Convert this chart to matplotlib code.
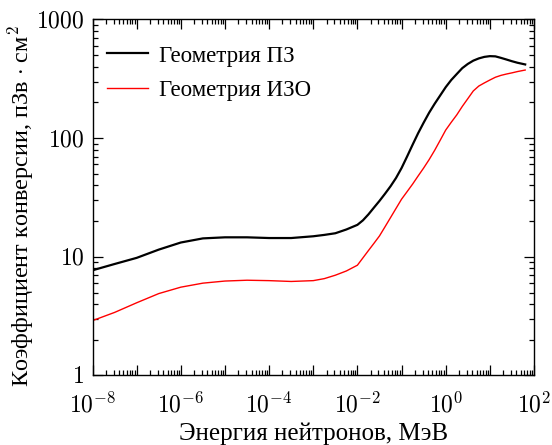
import matplotlib
matplotlib.use("Agg")
import matplotlib.pyplot as plt
from matplotlib.ticker import FixedLocator, FuncFormatter, LogLocator, NullFormatter
import numpy as np

plt.rcParams['mathtext.fontset'] = 'cm'
plt.rcParams['font.family'] = ['Liberation Serif', 'DejaVu Serif']

# log10 of energy (MeV)
log_energy = [-8, -7.5, -7, -6.5, -6, -5.5, -5, -4.5, -4, -3.5, -3, -2.75, -2.5, -2.25, -2,
              -1.875, -1.75, -1.625, -1.5, -1.375, -1.25, -1.125, -1, -0.875, -0.75,
              -0.625, -0.5, -0.375, -0.25, -0.125, 0, 0.125, 0.25, 0.375, 0.5, 0.625,
              0.75, 0.875, 1.0, 1.125, 1.25, 1.375, 1.5, 1.625, 1.8]
geom_pz = [7.7, 8.7, 9.8, 11.5, 13.2, 14.3, 14.6, 14.6, 14.4, 14.4, 14.9, 15.3, 15.8, 17.0, 18.6,
           20.3, 22.8, 26.0, 29.6, 34.0, 39.3, 46.2, 56, 70, 88,
           110, 135, 164, 195, 229, 269, 309, 347, 389, 422, 450,
           470, 484, 491, 489, 475, 460, 445, 432, 418]
geom_izo = [2.9, 3.4, 4.1, 4.9, 5.55, 6.0, 6.25, 6.35, 6.3, 6.2, 6.3, 6.55, 7.0, 7.6, 8.5,
            9.8, 11.3, 13.0, 15, 17.9, 21.4, 25.6, 30.6, 35.4, 41,
            48, 56, 66, 79, 96, 117, 136, 157, 185, 215, 250,
            275, 292, 309, 326, 338, 347, 355, 364, 375]

labels = ['Геометрия ПЗ', 'Геометрия ИЗО']
xlabel = 'Энергия нейтронов, МэВ'
ylabel = 'Коэффициент конверсии, пЗв $\\cdot$ см$^2$'

energy = [10.0 ** v for v in log_energy]

fig = plt.figure(figsize=(5.52, 4.45), dpi=100)
ax = fig.add_axes([0.1676, 0.1562, 0.7998, 0.8])
ax.plot(energy, geom_pz, color='black', lw=1.6, label=labels[0])
ax.plot(energy, geom_izo, color='red', lw=1.0, label=labels[1])
ax.set_xscale('log')
ax.set_yscale('log')
ax.set_xlim(1e-8, 1e2)
ax.set_ylim(1, 1000)

ax.xaxis.set_major_locator(FixedLocator([10.0 ** k for k in range(-8, 3)]))
ax.xaxis.set_major_formatter(FuncFormatter(
    lambda v, p: '$10^{%d}$' % round(np.log10(v)) if round(np.log10(v)) % 2 == 0 else ''))
ax.xaxis.set_minor_locator(LogLocator(base=10, subs=np.arange(2, 10), numticks=100))
ax.xaxis.set_minor_formatter(NullFormatter())
ax.yaxis.set_major_locator(FixedLocator([1, 10, 100, 1000]))
ax.yaxis.set_major_formatter(FuncFormatter(lambda v, p: '$%d$' % round(v)))
ax.yaxis.set_minor_locator(LogLocator(base=10, subs=np.arange(2, 10), numticks=100))
ax.yaxis.set_minor_formatter(NullFormatter())

ax.tick_params(which='both', direction='in', top=True, right=True, labelsize=17, width=0.9)
ax.tick_params(which='major', length=7)
ax.tick_params(which='minor', length=3.5)
ax.tick_params(axis='x', which='major', pad=12)
ax.tick_params(axis='y', which='major', pad=6)
for s in ax.spines.values():
    s.set_linewidth(1.0)

ax.set_xlabel(xlabel, fontsize=18, labelpad=4)
ax.set_ylabel(ylabel, fontsize=17.5)
ax.yaxis.set_label_coords(-0.128, 0.475)

ax.legend(loc='upper left', bbox_to_anchor=(0.033, 0.927), frameon=False, fontsize=16.5,
          handlelength=1.8, handletextpad=0.45, borderaxespad=0, borderpad=0,
          labelspacing=0.6)

fig.savefig('out.png', dpi=100)
